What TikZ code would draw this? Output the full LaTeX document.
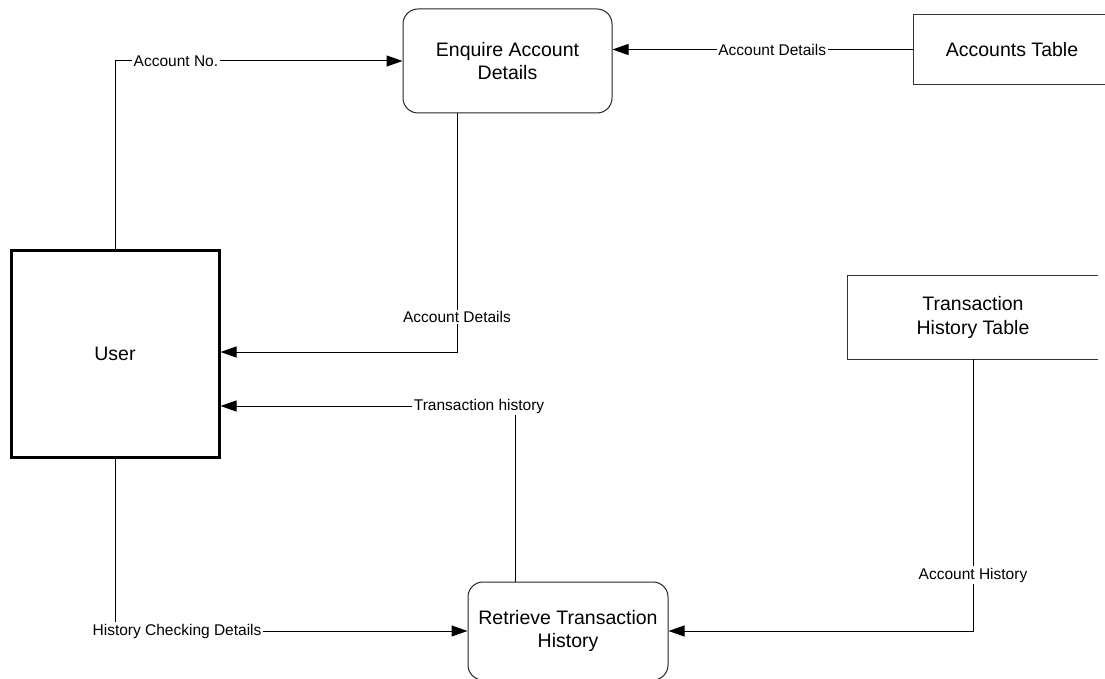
\documentclass[tikz,border=0pt]{standalone}
\usepackage{fontspec}
\setmainfont{Liberation Sans}
\usetikzlibrary{arrows.meta,calc}
\begin{document}
\begin{tikzpicture}[x=1pt,y=-1pt,
  proc/.style={draw=black!85,line width=1pt,rounded corners=15pt,fill=white,align=center,font=\fontsize{19.5}{23.5}\selectfont,inner sep=0pt},
  ent/.style={draw=black,line width=3pt,fill=white,font=\fontsize{19.5}{23.5}\selectfont,inner sep=0pt},
  store/.style={align=center,font=\fontsize{19.5}{23.5}\selectfont,inner sep=0pt},
  storeline/.style={draw=black!80,line width=1.3pt},
  arr/.style={draw=black,line width=1pt,-{Triangle[length=16pt,width=11pt]}},
  conn/.style={draw=black,line width=1pt},
  lbl/.style={fill=white,inner sep=1.5pt,font=\fontsize{15.5}{18}\selectfont}]
\clip (0,0) rectangle (1105,679);
\fill[white] (0,0) rectangle (1105,679);
% nodes
\node[proc,minimum width=209pt,minimum height=104pt] (enq) at (507.5,61) {Enquire Account\\Details};
\node[ent,minimum width=208pt,minimum height=207pt] (user) at (115,353.5) {User};
\node[proc,minimum width=200pt,minimum height=98pt] (ret) at (568,631) {Retrieve Transaction\\History};
\node[store,minimum width=196pt,minimum height=69pt] (acct) at (1012,49.5) {Accounts Table};
\node[store,minimum width=250pt,minimum height=83pt] (tht) at (973,317.5) {Transaction\\History Table};
\draw[storeline] (acct.north east) -- (acct.north west) -- (acct.south west) -- (acct.south east);
\draw[storeline] (tht.north east) -- (tht.north west) -- (tht.south west) -- (tht.south east);
% connectors
\draw[arr] (user.north) |- node[lbl,pos=0.606] {Account No.} (enq.west);
\draw[arr] (acct.west) -- node[lbl,pos=0.47] {Account Details} (acct.west -| enq.east);
\coordinate (enqout) at ($(enq.south)+(-50.5,0)$);
\draw[arr] (enqout) |- node[lbl,pos=0.427] {Account Details} ($(user.east)+(0,-1.5)$);
\coordinate (retout) at ($(ret.north)+(-53,0)$);
\draw[arr] (retout) |- node[lbl,pos=0.561] {Transaction history} ($(user.east)+(0,52.5)$);
\draw[arr] (user.south) |- node[lbl,pos=0.588] {History Checking Details} (ret.west);
\draw[arr] (tht.south) |- node[lbl,pos=0.397] {Account History} (ret.east);
\end{tikzpicture}
\end{document}
